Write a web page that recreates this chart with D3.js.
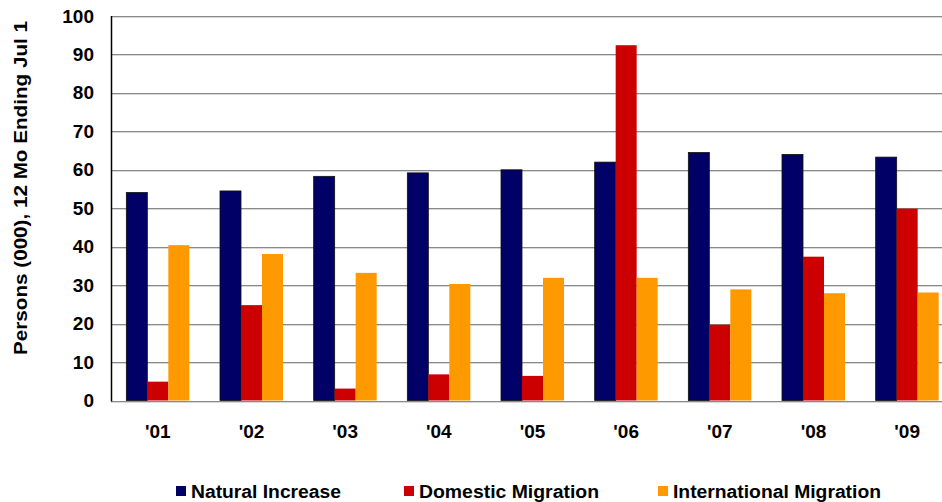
<!DOCTYPE html>
<html>
<head>
<meta charset="utf-8">
<script src="https://cdn.jsdelivr.net/npm/d3@7"></script>
<style>
  body { margin: 0; background: #fff; }
  svg { display: block; font-family: "Liberation Sans", Arial, sans-serif; }
</style>
</head>
<body>
<div id="chart"></div>
<script>
const years = ["'01", "'02", "'03", "'04", "'05", "'06", "'07", "'08", "'09"];
const naturalIncrease = [54.1, 54.5, 58.3, 59.2, 60.0, 62.0, 64.5, 64.0, 63.3];
const domesticMigration = [4.9, 24.8, 3.1, 6.8, 6.4, 92.4, 19.7, 37.4, 49.9];
const internationalMigration = [40.4, 38.1, 33.2, 30.3, 31.9, 31.9, 28.9, 27.9, 28.1];
const seriesNames = ["Natural Increase", "Domestic Migration", "International Migration"];
const seriesColors = ["#000066", "#cc0000", "#ff9900"];
const yTicks = [0, 10, 20, 30, 40, 50, 60, 70, 80, 90, 100];

const seriesValues = [naturalIncrease, domesticMigration, internationalMigration];
const rows = years.map((yr, i) => ({
    year: yr,
    values: seriesNames.map((name, s) => ({ key: name, value: seriesValues[s][i], color: seriesColors[s] }))
}));

const width = 942, height = 502;
const plotLeft = 111, plotRight = 954, plotTop = 16, plotBottom = 400.5;

const svg = d3.select("#chart").append("svg")
    .attr("width", width)
    .attr("height", height);

const x = d3.scaleBand().domain(years).range([plotLeft, plotRight]);
const barW = 21;
const xInner = d3.scaleBand().domain(seriesNames).range([0, barW * 3]);
const y = d3.scaleLinear().domain([0, 100]).range([plotBottom, plotTop]);

// gridlines (with light shadow underneath)
svg.append("g")
    .selectAll("line")
    .data(yTicks)
    .enter()
    .append("line")
    .attr("x1", plotLeft)
    .attr("x2", width)
    .attr("y1", d => Math.round(y(d)) + 0.5)
    .attr("y2", d => Math.round(y(d)) + 0.5)
    .attr("stroke", "#8a8a8a")
    .attr("stroke-width", 1);
svg.append("g")
    .selectAll("line")
    .data(yTicks)
    .enter()
    .append("line")
    .attr("x1", plotLeft)
    .attr("x2", width)
    .attr("y1", d => Math.round(y(d)) + 1.5)
    .attr("y2", d => Math.round(y(d)) + 1.5)
    .attr("stroke", "#d8d8d8")
    .attr("stroke-width", 1);

// bars
const groups = svg.append("g")
    .selectAll("g")
    .data(rows)
    .enter()
    .append("g")
    .attr("transform", d => `translate(${x(d.year) + (x.bandwidth() - barW * 3) / 2},0)`);

groups.selectAll("rect")
    .data(d => d.values)
    .enter()
    .append("rect")
    .attr("x", d => xInner(d.key))
    .attr("y", d => y(d.value))
    .attr("width", barW)
    .attr("height", d => plotBottom - y(d.value))
    .attr("fill", d => d.color)
    .attr("stroke", d => d.key === "Natural Increase" ? "#111" : "none")
    .attr("stroke-width", 0.8);

// left axis line
svg.append("line")
    .attr("x1", plotLeft + 0.5).attr("x2", plotLeft + 0.5)
    .attr("y1", plotTop).attr("y2", plotBottom + 1)
    .attr("stroke", "#000")
    .attr("stroke-width", 1.5);

// y axis labels
const yAxis = d3.axisLeft(y).tickValues(yTicks).tickSize(0).tickPadding(17);
const yg = svg.append("g")
    .attr("transform", `translate(${plotLeft},0)`)
    .call(yAxis);
yg.select(".domain").remove();
yg.selectAll("text")
    .attr("font-family", "Liberation Sans, Arial, sans-serif")
    .attr("font-size", 19)
    .attr("font-weight", "bold")
    .attr("fill", "#000");

// x axis labels
const xAxis = d3.axisBottom(x).tickSize(0).tickPadding(24);
const xg = svg.append("g")
    .attr("transform", `translate(0,${plotBottom})`)
    .call(xAxis);
xg.select(".domain").remove();
xg.selectAll("text")
    .attr("font-family", "Liberation Sans, Arial, sans-serif")
    .attr("font-size", 19)
    .attr("font-weight", "bold")
    .attr("fill", "#000");

// y axis title
svg.append("text")
    .attr("transform", "translate(27,188) rotate(-90)")
    .attr("text-anchor", "middle")
    .attr("font-size", 19)
    .attr("font-weight", "bold")
    .attr("textLength", 334)
    .attr("lengthAdjust", "spacingAndGlyphs")
    .text("Persons (000), 12 Mo Ending Jul 1");

// legend
const legendX = [176, 404, 658];
const legend = svg.append("g")
    .selectAll("g")
    .data(seriesNames)
    .enter()
    .append("g")
    .attr("transform", (d, i) => `translate(${legendX[i]},486)`);
legend.append("rect")
    .attr("width", 10)
    .attr("height", 10)
    .attr("fill", (d, i) => seriesColors[i]);
legend.append("text")
    .attr("x", 15)
    .attr("y", 12)
    .attr("font-size", 18)
    .attr("font-weight", "bold")
    .attr("textLength", (d, i) => [150, 180, 208][i])
    .attr("lengthAdjust", "spacingAndGlyphs")
    .text(d => d);
</script>
</body>
</html>
